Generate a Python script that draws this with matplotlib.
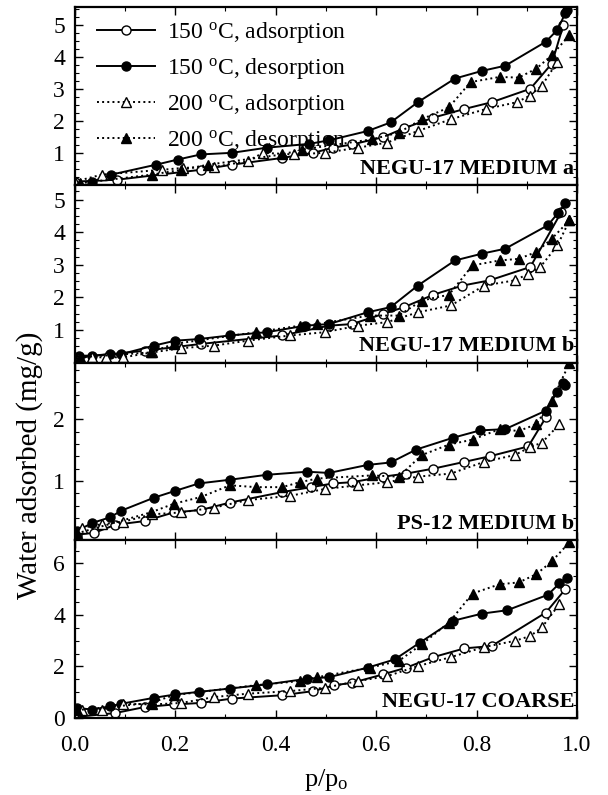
import matplotlib
matplotlib.use("Agg")
import matplotlib.pyplot as plt
from matplotlib.ticker import MultipleLocator

plt.rcParams['font.family'] = ['Liberation Serif', 'DejaVu Serif']
plt.rcParams['mathtext.fontset'] = 'custom'
plt.rcParams['mathtext.rm'] = 'Liberation Serif'
plt.rcParams['mathtext.it'] = 'Liberation Serif:italic'

series_labels = [r"150 $^{\rm o}$C, adsorption", r"150 $^{\rm o}$C, desorption",
                 r"200 $^{\rm o}$C, adsorption", r"200 $^{\rm o}$C, desorption"]
panel_titles = ["NEGU-17 MEDIUM a", "NEGU-17 MEDIUM b", "PS-12 MEDIUM b", "NEGU-17 COARSE"]

# Panel 1: NEGU-17 MEDIUM a
p1_a150_x = [0.0, 0.084, 0.251, 0.313, 0.413, 0.475, 0.514, 0.552, 0.614, 0.656, 0.714, 0.776, 0.830, 0.907, 0.950, 0.973]
p1_a150_y = [0.10, 0.16, 0.47, 0.63, 0.84, 1.00, 1.16, 1.26, 1.49, 1.77, 2.10, 2.37, 2.58, 3.00, 3.79, 5.00]
p1_d150_x = [0.035, 0.073, 0.162, 0.205, 0.251, 0.313, 0.382, 0.467, 0.506, 0.583, 0.629, 0.683, 0.757, 0.811, 0.857, 0.938, 0.961, 0.977, 0.981]
p1_d150_y = [0.10, 0.32, 0.63, 0.79, 0.95, 1.00, 1.16, 1.28, 1.39, 1.68, 1.95, 2.58, 3.32, 3.56, 3.72, 4.47, 4.84, 5.37, 5.47]
p1_a200_x = [0.0, 0.054, 0.174, 0.216, 0.278, 0.344, 0.375, 0.436, 0.498, 0.564, 0.622, 0.683, 0.749, 0.819, 0.880, 0.907, 0.930, 0.961]
p1_a200_y = [0.10, 0.32, 0.47, 0.53, 0.56, 0.74, 1.00, 0.95, 1.00, 1.16, 1.32, 1.68, 2.05, 2.37, 2.58, 2.79, 3.10, 3.84]
p1_d200_x = [0.01, 0.154, 0.212, 0.266, 0.413, 0.452, 0.591, 0.645, 0.691, 0.745, 0.788, 0.846, 0.884, 0.919, 0.950, 0.985]
p1_d200_y = [0.05, 0.32, 0.47, 0.63, 0.95, 1.10, 1.42, 1.63, 2.05, 2.42, 3.21, 3.37, 3.35, 3.63, 4.05, 4.68]

# Panel 2: NEGU-17 MEDIUM b
p2_a150_x = [0.008, 0.139, 0.251, 0.413, 0.506, 0.552, 0.614, 0.656, 0.714, 0.772, 0.826, 0.907, 0.969]
p2_a150_y = [0.16, 0.36, 0.57, 0.83, 1.13, 1.18, 1.49, 1.70, 2.08, 2.36, 2.52, 2.93, 4.62]
p2_d150_x = [0.008, 0.035, 0.070, 0.093, 0.158, 0.200, 0.247, 0.309, 0.382, 0.459, 0.506, 0.583, 0.629, 0.683, 0.757, 0.811, 0.857, 0.942, 0.963, 0.977]
p2_d150_y = [0.21, 0.21, 0.26, 0.26, 0.52, 0.67, 0.72, 0.83, 0.93, 1.13, 1.18, 1.54, 1.70, 2.36, 3.13, 3.34, 3.49, 4.21, 4.60, 4.88]
p2_a200_x = [0.008, 0.035, 0.062, 0.097, 0.154, 0.212, 0.278, 0.344, 0.429, 0.498, 0.564, 0.622, 0.683, 0.749, 0.815, 0.876, 0.903, 0.927, 0.961, 0.985]
p2_a200_y = [0.16, 0.16, 0.16, 0.16, 0.31, 0.44, 0.52, 0.67, 0.83, 0.93, 1.13, 1.24, 1.54, 1.75, 2.36, 2.52, 2.72, 2.93, 3.59, 4.36]
p2_d200_x = [0.01, 0.151, 0.197, 0.361, 0.448, 0.483, 0.587, 0.645, 0.691, 0.745, 0.792, 0.846, 0.884, 0.919, 0.950, 0.985]
p2_d200_y = [0.16, 0.31, 0.57, 0.93, 1.13, 1.18, 1.44, 1.44, 1.90, 2.08, 2.98, 3.13, 3.18, 3.39, 3.80, 4.36]

# Panel 3: PS-12 MEDIUM b
p3_a150_x = [0.004, 0.039, 0.081, 0.139, 0.197, 0.251, 0.309, 0.413, 0.471, 0.514, 0.552, 0.614, 0.660, 0.714, 0.776, 0.826, 0.903, 0.938]
p3_a150_y = [0.13, 0.16, 0.29, 0.35, 0.49, 0.53, 0.65, 0.82, 0.90, 0.96, 0.98, 1.07, 1.12, 1.20, 1.31, 1.40, 1.56, 2.03]
p3_d150_x = [0.004, 0.035, 0.070, 0.093, 0.158, 0.200, 0.247, 0.309, 0.382, 0.463, 0.506, 0.583, 0.629, 0.680, 0.753, 0.807, 0.857, 0.938, 0.961, 0.973, 0.977]
p3_d150_y = [0.19, 0.32, 0.41, 0.52, 0.73, 0.84, 0.96, 1.02, 1.10, 1.15, 1.13, 1.26, 1.30, 1.51, 1.70, 1.82, 1.84, 2.14, 2.45, 2.58, 2.55]
p3_a200_x = [0.0, 0.015, 0.054, 0.097, 0.154, 0.212, 0.278, 0.344, 0.429, 0.498, 0.564, 0.622, 0.683, 0.749, 0.815, 0.876, 0.907, 0.930, 0.965]
p3_a200_y = [0.13, 0.24, 0.30, 0.34, 0.46, 0.49, 0.57, 0.69, 0.76, 0.87, 0.93, 0.98, 1.07, 1.12, 1.31, 1.42, 1.55, 1.62, 1.92]
p3_d200_x = [0.004, 0.151, 0.197, 0.251, 0.309, 0.361, 0.413, 0.448, 0.483, 0.591, 0.645, 0.691, 0.745, 0.792, 0.846, 0.884, 0.919, 0.950, 0.985]
p3_d200_y = [0.15, 0.49, 0.63, 0.74, 0.93, 0.90, 0.90, 0.98, 1.04, 1.09, 1.07, 1.42, 1.59, 1.67, 1.84, 1.81, 1.92, 2.30, 2.91]

# Panel 4: NEGU-17 COARSE
p4_a150_x = [0.0, 0.081, 0.139, 0.197, 0.251, 0.313, 0.413, 0.475, 0.517, 0.552, 0.614, 0.660, 0.714, 0.776, 0.830, 0.938, 0.977]
p4_a150_y = [0.03, 0.19, 0.42, 0.52, 0.58, 0.75, 0.88, 1.04, 1.27, 1.36, 1.69, 1.95, 2.36, 2.70, 2.79, 4.09, 5.00]
p4_d150_x = [0.004, 0.035, 0.070, 0.093, 0.158, 0.200, 0.247, 0.309, 0.382, 0.463, 0.506, 0.583, 0.637, 0.687, 0.753, 0.811, 0.861, 0.942, 0.965, 0.981]
p4_d150_y = [0.39, 0.32, 0.45, 0.55, 0.78, 0.91, 1.01, 1.14, 1.30, 1.52, 1.58, 1.95, 2.27, 2.92, 3.77, 4.05, 4.18, 4.78, 5.22, 5.45]
p4_a200_x = [0.0, 0.015, 0.054, 0.097, 0.154, 0.212, 0.278, 0.344, 0.429, 0.498, 0.564, 0.622, 0.683, 0.749, 0.815, 0.876, 0.907, 0.930, 0.965]
p4_a200_y = [0.13, 0.32, 0.32, 0.55, 0.52, 0.58, 0.81, 0.94, 1.04, 1.17, 1.43, 1.62, 2.01, 2.36, 2.75, 2.99, 3.18, 3.51, 4.42]
p4_d200_x = [0.004, 0.151, 0.197, 0.361, 0.448, 0.483, 0.587, 0.645, 0.691, 0.745, 0.792, 0.846, 0.884, 0.919, 0.950, 0.985]
p4_d200_y = [0.30, 0.58, 0.88, 1.27, 1.43, 1.58, 1.95, 2.21, 2.86, 3.70, 4.83, 5.19, 5.26, 5.58, 6.08, 6.82]

panels = [
    (p1_a150_x, p1_a150_y, p1_d150_x, p1_d150_y, p1_a200_x, p1_a200_y, p1_d200_x, p1_d200_y),
    (p2_a150_x, p2_a150_y, p2_d150_x, p2_d150_y, p2_a200_x, p2_a200_y, p2_d200_x, p2_d200_y),
    (p3_a150_x, p3_a150_y, p3_d150_x, p3_d150_y, p3_a200_x, p3_a200_y, p3_d200_x, p3_d200_y),
    (p4_a150_x, p4_a150_y, p4_d150_x, p4_d150_y, p4_a200_x, p4_a200_y, p4_d200_x, p4_d200_y),
]
ylims = [(0, 5.55), (0, 5.45), (0.04, 2.92), (0, 6.9)]
yticks = [[1, 2, 3, 4, 5], [1, 2, 3, 4, 5], [1, 2], [0, 2, 4, 6]]
yminor = [0.25, 0.25, 0.2, 0.5]

styles = [
    dict(ls='-', marker='o', mfc='white', mec='black', color='black'),
    dict(ls='-', marker='o', mfc='black', mec='black', color='black'),
    dict(ls=':', marker='^', mfc='white', mec='black', color='black'),
    dict(ls=':', marker='^', mfc='black', mec='black', color='black'),
]

fig = plt.figure(figsize=(6.08, 7.95), dpi=100)
left, width = 0.123, 0.826
bottom0, top0 = 0.097, 0.991
h = (top0 - bottom0) / 4

for i, data in enumerate(panels):
    ax = fig.add_axes([left, top0 - (i + 1) * h, width, h])
    for k in range(4):
        ax.plot(data[2 * k], data[2 * k + 1], lw=1.4, ms=6.5, mew=1.0,
                label=series_labels[k], **styles[k])
    ax.set_xlim(0, 1.0)
    ax.set_ylim(*ylims[i])
    ax.set_yticks(yticks[i])
    ax.yaxis.set_minor_locator(MultipleLocator(yminor[i]))
    ax.xaxis.set_major_locator(MultipleLocator(0.2))
    ax.xaxis.set_minor_locator(MultipleLocator(0.1))
    ax.tick_params(which='both', direction='in', top=True, right=True)
    ax.tick_params(which='major', length=6, width=1.0, labelsize=17)
    ax.tick_params(which='minor', length=3, width=0.8)
    ax.tick_params(axis='y', pad=7)
    for sp in ax.spines.values():
        sp.set_linewidth(1.6)
    if i < 3:
        ax.tick_params(labelbottom=False)
    else:
        ax.set_xticks([0.0, 0.2, 0.4, 0.6, 0.8, 1.0])
        ax.set_xticklabels(['0.0', '0.2', '0.4', '0.6', '0.8', '1.0'])
        ax.tick_params(axis='x', pad=12)
        ax.set_xlabel(r"p/p$_{\rm o}$", fontsize=19, labelpad=8)
    ax.text(0.995, 0.035, panel_titles[i], transform=ax.transAxes, ha='right', va='bottom',
            fontsize=16, fontweight='bold')
    if i == 0:
        ax.legend(loc='upper left', frameon=False, fontsize=17, handlelength=2.45,
                  handletextpad=0.5, labelspacing=0.47, borderaxespad=0.0,
                  borderpad=0.2, bbox_to_anchor=(0.035, 0.955))

fig.text(0.049, 0.415, "Water adsorbed (mg/g)", rotation=90, ha='center', va='center', fontsize=21)

fig.savefig("out.png", dpi=100)
